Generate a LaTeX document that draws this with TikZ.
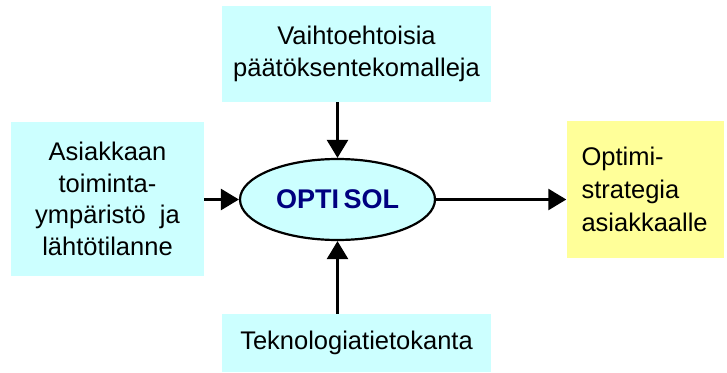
\documentclass[tikz,border=0pt]{standalone}
\usepackage{fontspec}
\setmainfont{Liberation Sans}
\usetikzlibrary{arrows.meta,positioning,shapes.geometric}
\definecolor{lightcyan}{RGB}{204,255,255}
\definecolor{lightyellow}{RGB}{255,255,153}
\definecolor{optiblue}{RGB}{0,0,128}

\begin{document}
\begin{tikzpicture}[x=1pt,y=-1pt,
    box/.style={fill=lightcyan, inner sep=0pt, align=center, font=\fontsize{25.5}{31.5}\selectfont},
    arr/.style={-{Triangle[length=18pt,width=21pt]}, line width=2.6pt}]
        \useasboundingbox (0,0) rectangle (727,372);

        % Input boxes
        \node[box, minimum width=269pt, minimum height=96pt] (alt) at (356.5,54) {Vaihtoehtoisia\\päätöksentekomalleja};
        \node[box, minimum width=193pt, minimum height=154pt] (env) at (107.5,199) {Asiakkaan\\toiminta-\\ympäristö\ \ ja\\lähtötilanne};
        \node[box, minimum width=269pt, minimum height=58pt] (tech) at (356.5,343) {Teknologiatietokanta};

        % Core
        \node[ellipse, draw, line width=2.2pt, fill=lightcyan, minimum width=195pt, minimum height=81pt,
              font=\fontsize{27}{30}\selectfont\bfseries, text=optiblue] (opt) at (337.5,199.5) {OPTI\,SOL};

        % Result
        \node[box, fill=lightyellow, minimum width=157pt, minimum height=137pt, text width=127pt,
              inner xsep=15pt, align=left, font=\fontsize{25.5}{33}\selectfont] (res) at (645,189.5) {Optimi-\\strategia\\asiakkaalle};

        % Arrows
        \draw[arr] (env.east |- opt.west) -- (opt.west);
        \draw[arr] (alt.south -| opt.north) -- (opt.north);
        \draw[arr] (tech.north -| opt.south) -- (opt.south);
        \draw[arr] (opt.east) -- (opt.east -| res.west);
\end{tikzpicture}
\end{document}
